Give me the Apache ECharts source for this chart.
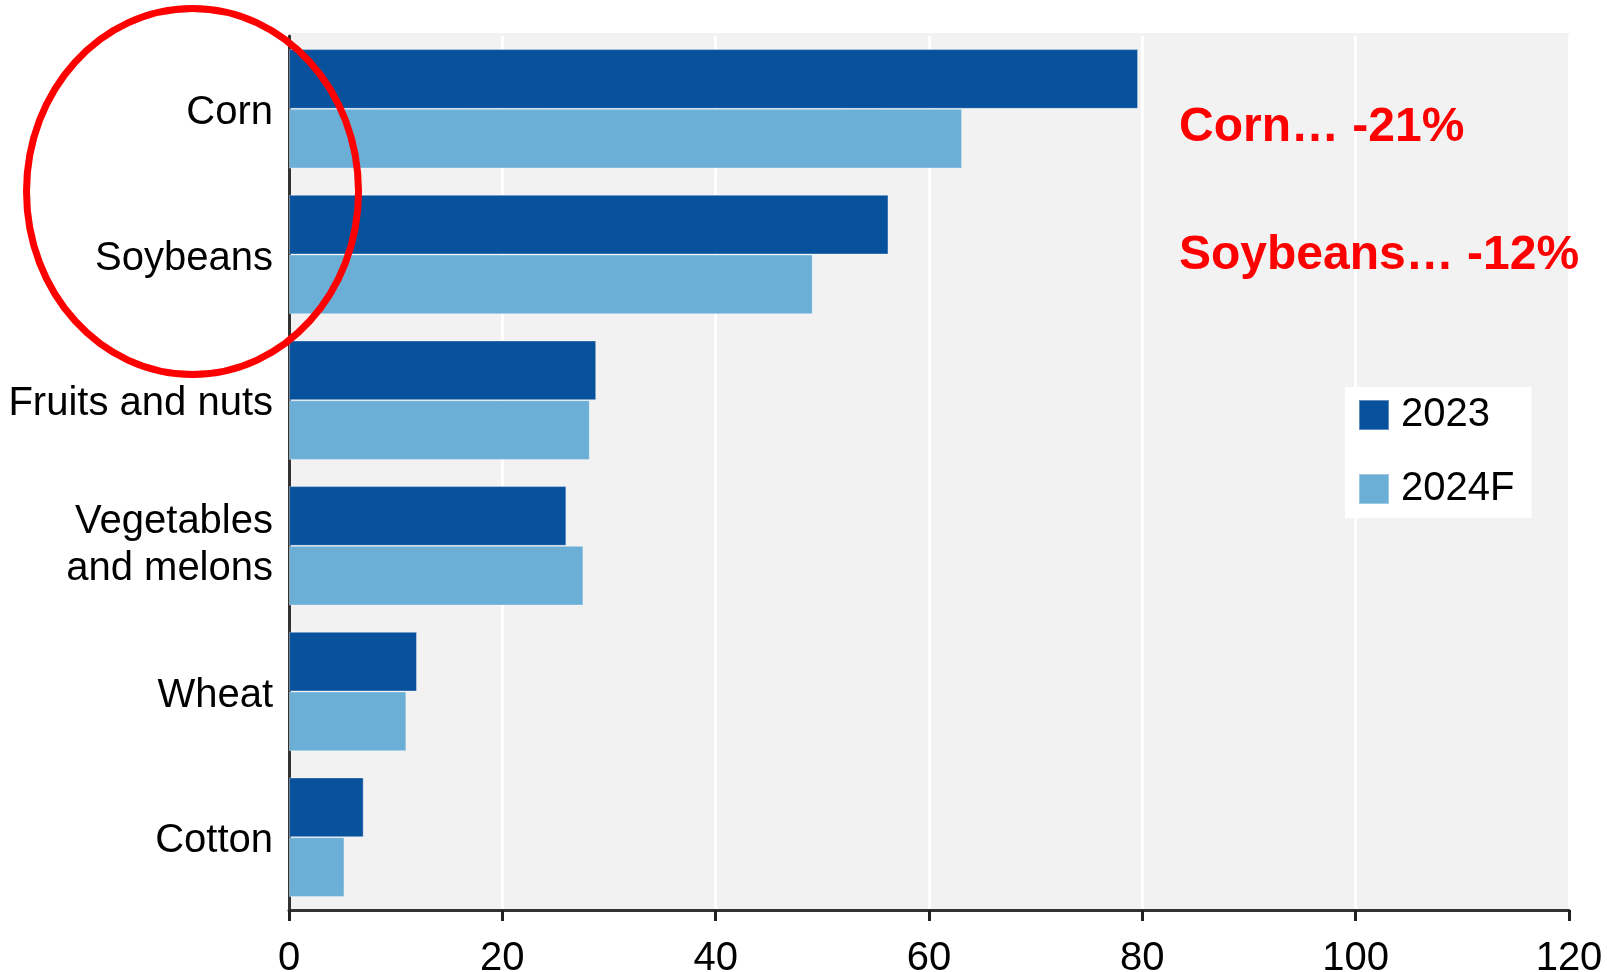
<!DOCTYPE html>
<html>
<head>
<meta charset="utf-8">
<script src="https://cdn.jsdelivr.net/npm/echarts@6/dist/echarts.min.js"></script>
<style>
  html, body { margin: 0; padding: 0; background: #fff; }
  #chart { width: 1607px; height: 972px; }
</style>
</head>
<body>
<div id="chart"></div>
<script>
const categories = ["Corn", "Soybeans", "Fruits and nuts", "Vegetables\nand melons", "Wheat", "Cotton"];
const values2023 = [79.6, 56.2, 28.8, 26.0, 12.0, 7.0];
const values2024F = [63.1, 49.1, 28.2, 27.6, 11.0, 5.2];
const xTicks = [0, 20, 40, 60, 80, 100, 120];
const notes = ["Corn\u2026 -21%", "Soybeans\u2026 -12%"];

const font = "'Liberation Sans', Arial, sans-serif";
const chart = echarts.init(document.getElementById("chart"));

// single-line labels sit a little below the band centre in the original
function categoryLabel(value) {
  const lines = value.split("\n");
  if (lines.length > 1) return lines.map((s) => "{a|" + s + "}").join("\n");
  return "{s| }\n{a|" + value + "}";
}

chart.setOption({
  animation: false,
  textStyle: { fontFamily: font },
  grid: {
    left: 289, right: 38, top: 36, bottom: 62,
    outerBoundsMode: "none",
    containLabel: false,
    show: true, backgroundColor: "#f2f2f2", borderWidth: 0,
  },
  legend: {
    orient: "vertical",
    left: 1345,
    top: 387,
    backgroundColor: "#ffffff",
    padding: [6, 17, 7, 13],
    itemWidth: 30,
    itemHeight: 30,
    itemGap: 30,
    icon: "rect",
    textStyle: { fontSize: 40, color: "#000", lineHeight: 44, padding: [0, 0, 0, 7], fontFamily: font },
    data: ["2023", "2024F"],
  },
  xAxis: {
    type: "value",
    min: xTicks[0],
    max: xTicks[xTicks.length - 1],
    interval: 20,
    axisLine: { show: true, lineStyle: { color: "#333", width: 3 } },
    axisTick: { show: true, length: 11, lineStyle: { color: "#222", width: 3 } },
    axisLabel: { fontSize: 40, color: "#000", margin: 29, fontFamily: font },
    splitLine: { show: true, lineStyle: { color: "#ffffff", width: 3 } },
  },
  yAxis: {
    type: "category",
    inverse: true,
    data: categories,
    axisLine: { show: true, lineStyle: { color: "#333", width: 3 } },
    axisTick: { show: false },
    axisLabel: {
      color: "#000", margin: 16, align: "right", fontFamily: font,
      formatter: categoryLabel,
      rich: {
        a: { fontSize: 40, lineHeight: 47, color: "#000", fontFamily: font, align: "right" },
        s: { fontSize: 4, lineHeight: 8 },
      },
    },
    splitLine: { show: false },
  },
  series: [
    {
      name: "2023",
      type: "bar",
      data: values2023,
      barGap: "0%",
      barCategoryGap: "18%",
      itemStyle: { color: "#08519c", borderColor: "rgba(255,255,255,0.35)", borderWidth: 1 },
    },
    {
      name: "2024F",
      type: "bar",
      data: values2024F,
      barGap: "0%",
      barCategoryGap: "18%",
      itemStyle: { color: "#6baed6", borderColor: "rgba(255,255,255,0.35)", borderWidth: 1 },
    },
  ],
  graphic: [
    {
      type: "rect", z: -1, silent: true,
      shape: { x: 289, y: 33, width: 1280, height: 4 },
      style: { fill: "#f2f2f2" },
    },
    {
      type: "text", left: 1179, top: 104, z: 100,
      style: { text: notes[0], font: "bold 48px " + font, fill: "#ff0000" },
    },
    {
      type: "text", left: 1179, top: 232, z: 100,
      style: { text: notes[1], font: "bold 48px " + font, fill: "#ff0000" },
    },
    {
      type: "ellipse", z: 100,
      shape: { cx: 192.5, cy: 191.5, rx: 166, ry: 183 },
      style: { fill: "none", stroke: "#ff0000", lineWidth: 7 },
    },
  ],
});
</script>
</body>
</html>
